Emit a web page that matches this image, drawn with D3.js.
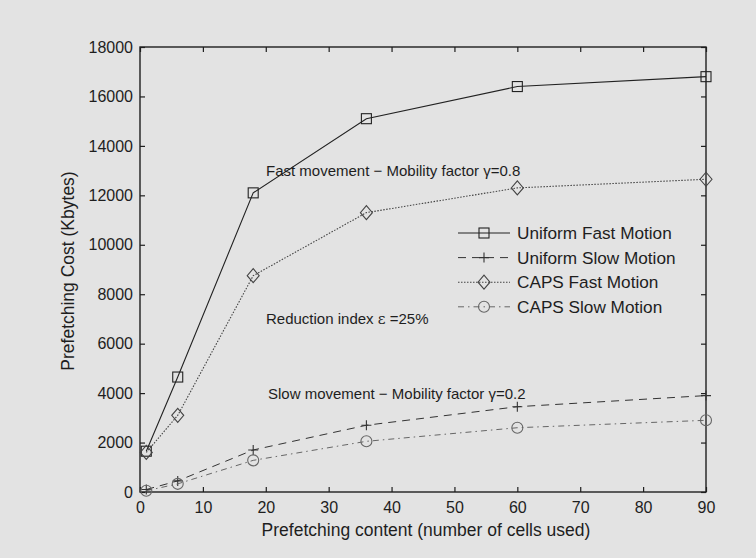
<!DOCTYPE html>
<html>
<head>
<meta charset="utf-8">
<script src="https://cdn.jsdelivr.net/npm/d3@7"></script>
<style>
  html, body { margin: 0; padding: 0; background: #e3e3e3; }
  svg { display: block; }
  text { font-family: "Liberation Sans", Arial, Helvetica, sans-serif; fill: #1e1e1e; }
</style>
</head>
<body>
<script>
// Prefetching content (number of cells used)
const cells = [1, 6, 18, 36, 60, 90];

// Prefetching cost in Kbytes for each scheme
const uniformFast = [1650, 4650, 12100, 15100, 16400, 16800];
const uniformSlow = [100, 450, 1700, 2700, 3450, 3900];
const capsFast    = [1600, 3100, 8750, 11300, 12300, 12650];
const capsSlow    = [50, 330, 1280, 2050, 2600, 2900];

const xTicks = [0, 10, 20, 30, 40, 50, 60, 70, 80, 90];
const yTicks = [0, 2000, 4000, 6000, 8000, 10000, 12000, 14000, 16000, 18000];

const seriesNames = ["Uniform Fast Motion", "Uniform Slow Motion", "CAPS Fast Motion", "CAPS Slow Motion"];

const W = 756, H = 558;
const plot = { left: 140, right: 706, top: 47, bottom: 492 };

const svg = d3.select("body").append("svg").attr("width", W).attr("height", H);

const x = d3.scaleLinear().domain([0, 90]).range([plot.left, plot.right]);
const y = d3.scaleLinear().domain([0, 18000]).range([plot.bottom, plot.top]);

const ink = "#1e1e1e";

// Axes box with inward ticks on all four sides
const tickLen = 5;
const axisStyle = g => {
  g.selectAll("path.domain").remove();
  g.selectAll("line").attr("stroke", ink).attr("stroke-width", 1.2);
  g.selectAll("text").attr("font-size", 16).attr("fill", ink);
};

svg.append("g")
  .attr("transform", `translate(0,${plot.bottom})`)
  .call(d3.axisBottom(x).tickValues(xTicks).tickSize(-tickLen).tickPadding(10).tickFormat(d3.format("d")))
  .call(axisStyle);

svg.append("g")
  .attr("transform", `translate(0,${plot.top})`)
  .call(d3.axisTop(x).tickValues(xTicks).tickSize(-tickLen).tickFormat(""))
  .call(axisStyle);

svg.append("g")
  .attr("transform", `translate(${plot.left},0)`)
  .call(d3.axisLeft(y).tickValues(yTicks).tickSize(-tickLen).tickPadding(7).tickFormat(d3.format("d")))
  .call(axisStyle);

svg.append("g")
  .attr("transform", `translate(${plot.right},0)`)
  .call(d3.axisRight(y).tickValues(yTicks).tickSize(-tickLen).tickFormat(""))
  .call(axisStyle);

svg.append("rect")
  .attr("x", plot.left).attr("y", plot.top)
  .attr("width", plot.right - plot.left).attr("height", plot.bottom - plot.top)
  .attr("fill", "none").attr("stroke", ink).attr("stroke-width", 1.4);

// Axis titles
svg.append("text")
  .attr("x", 426).attr("y", 536)
  .attr("text-anchor", "middle").attr("font-size", 17.5)
  .text("Prefetching content (number of cells used)");

svg.append("text")
  .attr("transform", `translate(74,271) rotate(-90)`)
  .attr("text-anchor", "middle").attr("font-size", 17.5)
  .text("Prefetching Cost (Kbytes)");

// Series definitions: line dash pattern, stroke colour, marker type
const series = [
  { name: seriesNames[0], values: uniformFast, dash: null,        color: "#222", width: 1.1, marker: "square" },
  { name: seriesNames[1], values: uniformSlow, dash: "8,6",       color: "#333", width: 1.0, marker: "plus" },
  { name: seriesNames[2], values: capsFast,    dash: "1.5,1.5",   color: "#444", width: 1.1, marker: "diamond" },
  { name: seriesNames[3], values: capsSlow,    dash: "6,4,1.5,4", color: "#666", width: 1.0, marker: "circle" }
];

const line = d3.line().x((d, i) => x(cells[i])).y(d => y(d));

function drawMarker(g, type, cx, cy, color) {
  const s = g.append("g").attr("transform", `translate(${cx},${cy})`)
    .attr("fill", "none").attr("stroke", color).attr("stroke-width", 1.1);
  if (type === "square") {
    s.append("rect").attr("x", -5).attr("y", -5).attr("width", 10).attr("height", 10);
  } else if (type === "diamond") {
    s.append("path").attr("d", "M0,-7L6,0L0,7L-6,0Z");
  } else if (type === "plus") {
    s.append("path").attr("d", "M-5,0H5M0,-5V5");
  } else if (type === "circle") {
    s.append("circle").attr("r", 5.5);
  }
}

const plotG = svg.append("g");
series.forEach(s => {
  plotG.append("path")
    .datum(s.values)
    .attr("d", line)
    .attr("fill", "none")
    .attr("stroke", s.color)
    .attr("stroke-width", s.width)
    .attr("stroke-dasharray", s.dash);
  s.values.forEach((v, i) => drawMarker(plotG, s.marker, x(cells[i]), y(v), s.color));
});

// Legend
const legend = svg.append("g");
const legX0 = 458, legX1 = 510, legY0 = 233, legStep = 24.6;
series.forEach((s, i) => {
  const ly = legY0 + i * legStep;
  legend.append("line")
    .attr("x1", legX0).attr("x2", legX1).attr("y1", ly).attr("y2", ly)
    .attr("stroke", s.color).attr("stroke-width", s.width)
    .attr("stroke-dasharray", s.dash);
  drawMarker(legend, s.marker, (legX0 + legX1) / 2, ly, s.color);
  legend.append("text")
    .attr("x", 517).attr("y", ly + 6)
    .attr("font-size", 17.2)
    .text(s.name);
});

// Annotations
const notes = svg.append("g").attr("font-size", 15);
const fastNote = notes.append("text").attr("x", 266).attr("y", 176);
fastNote.append("tspan").text("Fast movement \u2212 Mobility factor ");
fastNote.append("tspan").text("\u03b3");
fastNote.append("tspan").text("=0.8");

const redNote = notes.append("text").attr("x", 266).attr("y", 324);
redNote.append("tspan").text("Reduction index ");
redNote.append("tspan").attr("font-family", "DejaVu Serif, serif").text("\u03b5");
redNote.append("tspan").text(" =25%");

const slowNote = notes.append("text").attr("x", 268).attr("y", 399);
slowNote.append("tspan").text("Slow movement \u2212 Mobility factor ");
slowNote.append("tspan").text("\u03b3");
slowNote.append("tspan").text("=0.2");
</script>
</body>
</html>
